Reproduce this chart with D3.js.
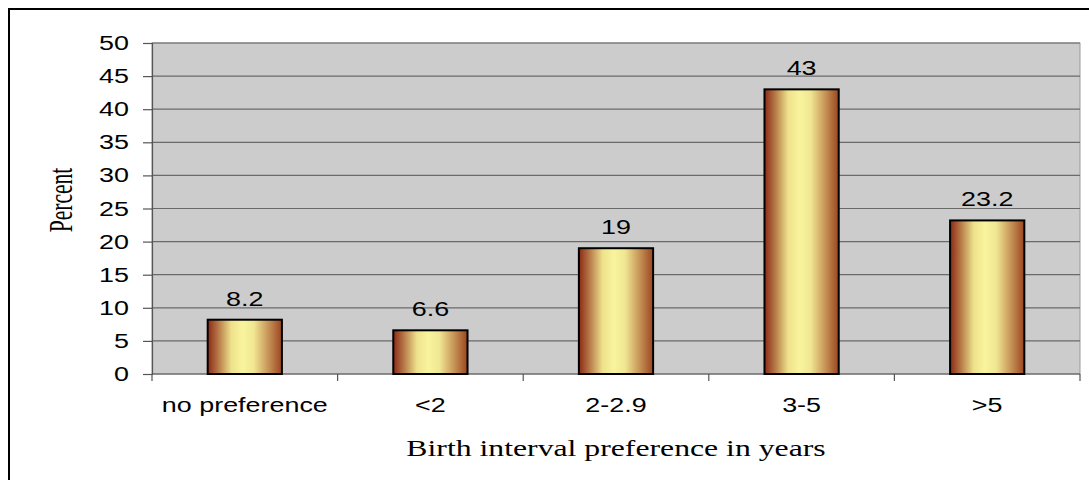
<!DOCTYPE html>
<html><head><meta charset="utf-8">
<script src="https://cdn.jsdelivr.net/npm/d3@7"></script>
<style>html,body{margin:0;padding:0;background:#fff;}svg{display:block;}</style>
</head><body>
<script>
const categories = ["no preference", "<2", "2-2.9", "3-5", ">5"];
const values = [8.2, 6.6, 19, 43, 23.2];
const yTicks = [0, 5, 10, 15, 20, 25, 30, 35, 40, 45, 50];
const xTitle = "Birth interval preference in years";
const yTitle = "Percent";

const W = 1089, H = 480;
const SX = 1.38; // horizontal stretch of text in the reference
const svg = d3.select("body").append("svg").attr("width", W).attr("height", H);

// outer frame
svg.append("rect").attr("x", 9).attr("y", 9).attr("width", 1100).attr("height", 500)
  .attr("fill", "#fff").attr("stroke", "#000").attr("stroke-width", 2);

const L = 152, R = 1080, T = 43, B = 374;
const x = d3.scaleBand().domain(categories).range([L, R]).paddingInner(0.6).paddingOuter(0.3);
const xb = d3.scaleBand().domain(categories).range([L, R]);
const y = d3.scaleLinear().domain([0, 50]).range([B, T]);

const defs = svg.append("defs");
const g = defs.append("linearGradient").attr("id", "barg").attr("x1", "0").attr("x2", "1").attr("y1", "0").attr("y2", "0");
[[0, "#8c2916"], [0.14, "#b57746"], [0.32, "#eee28c"], [0.47, "#f8f49d"], [0.62, "#f1e793"], [0.82, "#c69357"], [1, "#9b4520"]]
  .forEach(([o, c]) => g.append("stop").attr("offset", o).attr("stop-color", c));

// plot background
svg.append("rect").attr("x", L).attr("y", T).attr("width", R - L).attr("height", B - T)
  .attr("fill", "#cccccc").attr("stroke", "#9a9a9a").attr("stroke-width", 1);

// gridlines
svg.append("g").selectAll("line").data(yTicks.filter(d => d > 0)).join("line")
  .attr("x1", L).attr("x2", R).attr("y1", d => y(d)).attr("y2", d => y(d))
  .attr("stroke", "#6a6a6a").attr("stroke-width", 1.2);

// y axis
const yAxis = svg.append("g").attr("transform", `translate(${L},0)`)
  .call(d3.axisLeft(y).tickValues(yTicks).tickSize(9).tickPadding(0).tickFormat(""));
yAxis.select(".domain").attr("stroke", "#555").attr("stroke-width", 1.2);
yAxis.selectAll(".tick line").attr("stroke", "#555").attr("stroke-width", 1.2);

function stext(sel, tx, ty, txt, size, anchor, family) {
  return sel.append("text")
    .attr("transform", `translate(${tx},${ty}) scale(${SX},1)`)
    .attr("text-anchor", anchor)
    .attr("font-family", family || "'Liberation Sans', Arial, sans-serif")
    .attr("font-size", size).attr("fill", "#000").text(txt);
}
yTicks.forEach(t => stext(svg, 129, y(t) + 7, String(t), 19.5, "end"));

// x axis
svg.append("line").attr("x1", L).attr("x2", R).attr("y1", B).attr("y2", B)
  .attr("stroke", "#555").attr("stroke-width", 1.2);
const bounds = categories.map(c => xb(c)).concat([R]);
svg.append("g").selectAll("line").data(bounds).join("line")
  .attr("x1", d => d).attr("x2", d => d).attr("y1", B).attr("y2", B + 7)
  .attr("stroke", "#555").attr("stroke-width", 1.2);
categories.forEach(c => stext(svg, x(c) + x.bandwidth() / 2, 412, c, 19.5, "middle"));

// bars
svg.append("g").selectAll("rect").data(values).join("rect")
  .attr("x", (d, i) => x(categories[i]))
  .attr("y", d => y(d))
  .attr("width", x.bandwidth())
  .attr("height", d => B - y(d))
  .attr("fill", "url(#barg)").attr("stroke", "#000").attr("stroke-width", 2);

values.forEach((v, i) => stext(svg, x(categories[i]) + x.bandwidth() / 2, y(v) - 14, String(v), 19.5, "middle"));

// titles
svg.append("text")
  .attr("transform", `translate(${(L + R) / 2},456) scale(${SX},1)`)
  .attr("text-anchor", "middle").attr("font-family", "'Liberation Serif', 'Times New Roman', serif")
  .attr("font-size", 23).text(xTitle);
svg.append("text")
  .attr("transform", `translate(72,200) scale(${SX},1) rotate(-90) scale(0.9,1)`)
  .attr("text-anchor", "middle").attr("font-family", "'Liberation Serif', 'Times New Roman', serif")
  .attr("font-size", 24).text(yTitle);
</script>
</body></html>
